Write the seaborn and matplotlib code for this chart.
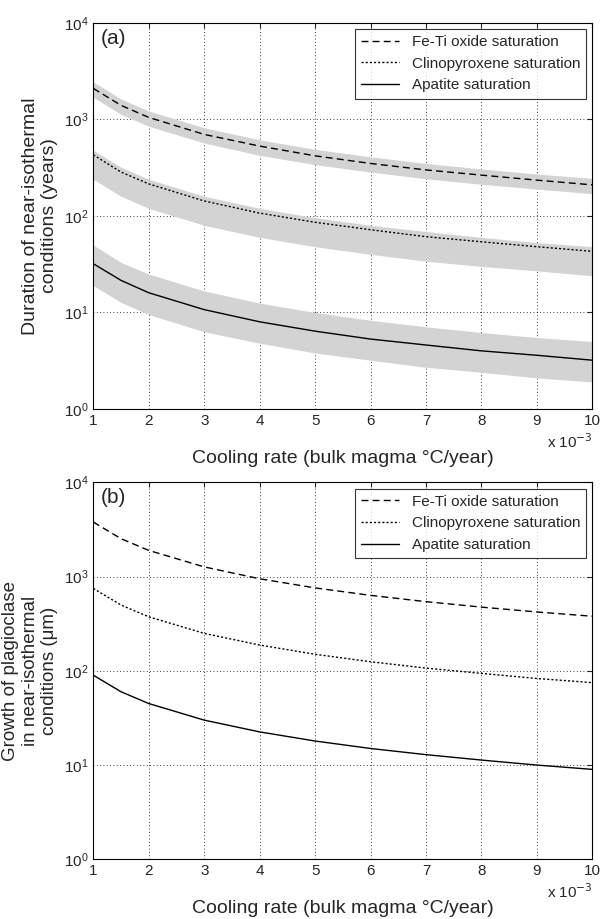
import numpy as np
import pandas as pd
import matplotlib
matplotlib.use("Agg")
import matplotlib.pyplot as plt
import seaborn as sns

# cooling rate, units of 1e-3 degC/year
rate = [1, 1.5, 2, 3, 4, 5, 6, 7, 8, 9, 10]

# (a) duration (years)
feti_dur = [2100, 1400, 1050, 700, 530, 420, 350, 300, 265, 235, 210]
feti_lo = [1700, 1130, 850, 570, 425, 340, 285, 243, 213, 190, 170]
feti_hi = [2450, 1630, 1225, 820, 615, 490, 410, 350, 307, 272, 245]
cpx_dur = [430, 285, 215, 143, 107, 86, 72, 61, 54, 48, 43]
cpx_lo = [240, 160, 120, 80, 60, 48, 40, 34, 30, 27, 24]
cpx_hi = [480, 320, 240, 160, 120, 96, 80, 69, 60, 53, 48]
apa_dur = [32, 21.5, 16, 10.7, 8, 6.4, 5.3, 4.6, 4.0, 3.6, 3.2]
apa_lo = [19, 12.7, 9.5, 6.3, 4.8, 3.8, 3.2, 2.7, 2.4, 2.1, 1.9]
apa_hi = [50, 33, 25, 16.7, 12.5, 10, 8.3, 7.1, 6.2, 5.5, 5.0]

# (b) growth (um)
feti_gr = [3800, 2530, 1900, 1270, 950, 760, 633, 543, 475, 422, 380]
cpx_gr = [750, 500, 375, 250, 188, 150, 125, 107, 94, 83, 75]
apa_gr = [90, 60, 45, 30, 22.5, 18, 15, 12.9, 11.3, 10, 9]

labels = ["Fe-Ti oxide saturation", "Clinopyroxene saturation", "Apatite saturation"]
styles = [(0, (5, 3)), (0, (1.5, 1.5)), "-"]

sns.set_style("white")
plt.rcParams["font.family"] = ["Liberation Sans", "DejaVu Sans"]

fig = plt.figure(figsize=(6.02, 9.19), dpi=100)
ax1 = fig.add_axes([0.155, 0.555, 0.829, 0.42])
ax2 = fig.add_axes([0.155, 0.065, 0.829, 0.41])

bands = [(feti_lo, feti_hi), (cpx_lo, cpx_hi), (apa_lo, apa_hi)]
for lo, hi in bands:
    ax1.fill_between(rate, lo, hi, color="#d3d3d3", lw=0)

for ax, series in [(ax1, [feti_dur, cpx_dur, apa_dur]), (ax2, [feti_gr, cpx_gr, apa_gr])]:
    for y, lab, ls in zip(series, labels, styles):
        df = pd.DataFrame({"x": rate, "y": y})
        sns.lineplot(data=df, x="x", y="y", ax=ax, color="black", lw=1,
                     linestyle=ls, label=lab)
    ax.set_yscale("log")
    ax.set_xlim(1, 10)
    ax.set_ylim(1, 1e4)
    ax.set_xticks(range(1, 11))
    ax.grid(True, which="major", color="black", ls=(0, (1, 3)), lw=0.6)
    ax.minorticks_off()
    ax.tick_params(direction="in", labelsize=11, top=True, right=True)
    for s in ax.spines.values():
        s.set_color("black")
        s.set_linewidth(0.8)
    ax.set_xlabel("Cooling rate (bulk magma °C/year)", fontsize=14, labelpad=16)
    ax.text(1.0, -0.06, r"x 10$^{-3}$", transform=ax.transAxes, ha="right",
            va="top", fontsize=11)
    leg = ax.legend(loc="upper right", fontsize=11, frameon=True, fancybox=False,
                    edgecolor="black", handlelength=2.5, borderaxespad=0.4)
    leg.get_frame().set_linewidth(0.8)

ax1.set_ylabel("Duration of near-isothermal\nconditions (years)", fontsize=14)
ax2.set_ylabel("Growth of plagioclase\nin near-isothermal\nconditions (μm)", fontsize=13.5)
ax1.text(0.015, 0.985, "(a)", transform=ax1.transAxes, fontsize=15, va="top")
ax2.text(0.015, 0.985, "(b)", transform=ax2.transAxes, fontsize=15, va="top")

fig.savefig("out.png", dpi=100)
